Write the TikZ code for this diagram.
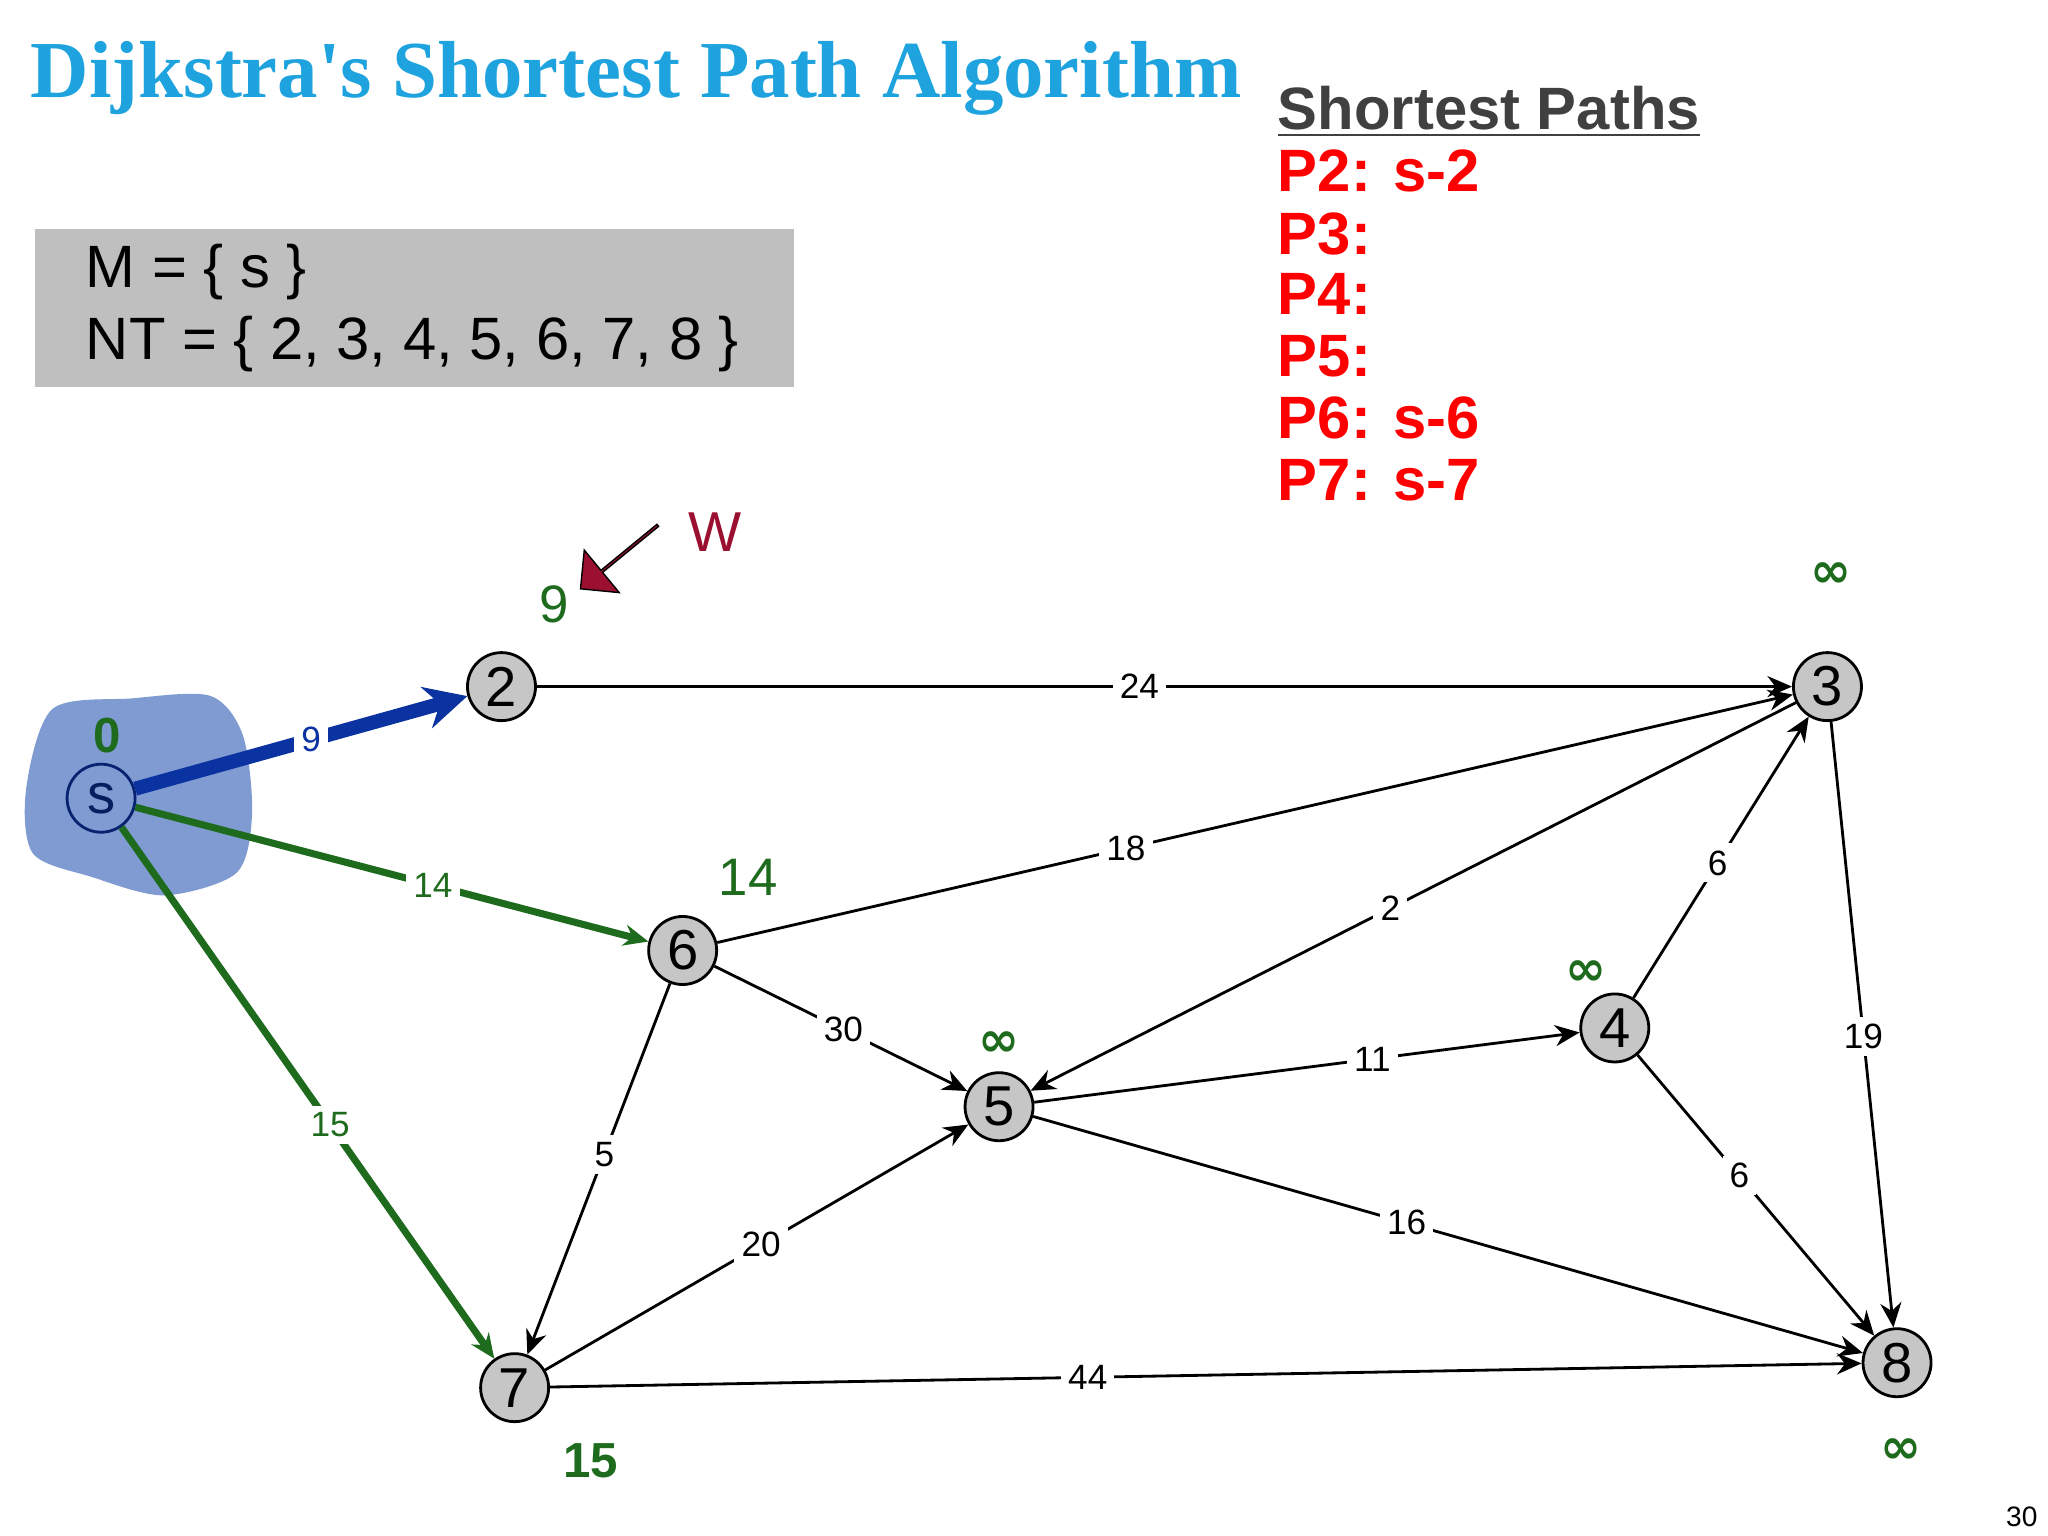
\documentclass[tikz,border=0pt]{standalone}
\usepackage{fontspec}
\setmainfont{Liberation Sans}
\newfontfamily\titlefont{Liberation Serif}
\newfontfamily\djv{DejaVu Sans}
\usetikzlibrary{arrows.meta,shapes.arrows}
\definecolor{ttl}{HTML}{1FA3DE}
\definecolor{grn}{HTML}{1E6B1E}
\definecolor{dred}{HTML}{9B1030}
\definecolor{blob}{HTML}{7F9BD2}
\definecolor{eblue}{HTML}{0A32A0}
\begin{document}
\begin{tikzpicture}[x=0.013128cm,y=-0.013128cm,
  vert/.style={circle,draw=black,thick,fill=gray!45,minimum size=0.68cm,inner sep=0pt,font=\fontsize{16}{16}\selectfont},
  edge/.style={-{Stealth[length=7pt,width=6pt]},thick},
  lab/.style={fill=white,inner sep=2pt,font=\fontsize{10}{10}\selectfont},
  dist/.style={text=grn,font=\bfseries\fontsize{14}{14}\selectfont},
  plab/.style={anchor=west,text=red,font=\bfseries\fontsize{17}{17}\selectfont}]
\useasboundingbox (0,0) rectangle (1560,1170);
\node[anchor=west,text=ttl,font=\titlefont\bfseries\fontsize{23}{23}\selectfont] (title) at (14,60) {Dijkstra's Shortest Path Algorithm};
\node[draw=none,fill=gray!50,minimum width=578*0.013128cm,minimum height=120*0.013128cm,anchor=north west] (box) at (26,174) {};
\node[anchor=west,font=\fontsize{17}{17}\selectfont] (m) at (56,207) {M = \{ s \}};
\node[anchor=west,font=\fontsize{17}{17}\selectfont] (nt) at (56,262) {NT = \{ 2, 3, 4, 5, 6, 7, 8 \}};
\node[anchor=west,text=black!75,font=\bfseries\fontsize{17}{17}\selectfont] (sp) at (964,85) {\underline{Shortest Paths}};
\node[plab] (p2) at (964,130) {P2: s-2};
\node[plab] (p3) at (964,178) {P3:};
\node[plab] (p4) at (964,224) {P4:};
\node[plab] (p5) at (964,271) {P5:};
\node[plab] (p6) at (964,318) {P6: s-6};
\node[plab] (p7) at (964,366) {P7: s-7};
\fill[blob] plot[smooth cycle] coordinates {(40,540)(100,532)(160,530)(185,560)(192,620)(180,665)(125,682)(70,668)(25,650)(20,600)};
\node[vert,fill=blob,draw=eblue!70!black,text=eblue!60!black] (s) at (77,608) {s};
\node[vert] (n2) at (382,523) {2};
\node[vert] (n3) at (1392,523) {3};
\node[vert] (n4) at (1230,783) {4};
\node[vert] (n5) at (761,843) {5};
\node[vert] (n6) at (520,724) {6};
\node[vert] (n7) at (392,1057) {7};
\node[vert] (n8) at (1445,1038) {8};
\draw[edge,eblue,line width=4pt,-{Stealth[length=12pt,width=12pt]}] (s) -- node[lab,pos=0.53]{9} (n2);
\draw[edge,grn,line width=2pt] (s) -- node[lab,pos=0.58]{14} (n6);
\draw[edge,grn,line width=2pt] (s) -- node[lab,pos=0.56]{15} (n7);
\draw[edge] (n2) -- node[lab,pos=0.48]{24} (n3);
\draw[edge] (n6) -- node[lab,pos=0.38]{18} (n3);
\draw[edge] (n3) -- node[lab,pos=0.53]{2} (n5);
\draw[edge] (n4) -- node[lab,pos=0.48]{6} (n3);
\draw[edge] (n3) -- node[lab,pos=0.52]{19} (n8);
\draw[edge] (n6) -- node[lab,pos=0.51]{30} (n5);
\draw[edge] (n6) -- node[lab,pos=0.46]{5} (n7);
\draw[edge] (n7) -- node[lab,pos=0.51]{20} (n5);
\draw[edge] (n5) -- node[lab,pos=0.62]{11} (n4);
\draw[edge] (n4) -- node[lab,pos=0.43]{6} (n8);
\draw[edge] (n5) -- node[lab,pos=0.45]{16} (n8);
\draw[edge] (n7) -- node[lab,pos=0.41]{44} (n8);
\node[dist] (d0) at (82,560) {0};
\node[dist,font=\fontsize{15}{15}\selectfont] (d2) at (422,460) {9};
\node[dist,font=\fontsize{15}{15}\selectfont] (d6) at (570,668) {14};
\node[dist] (d7) at (450,1113) {15};
\node[dist,font=\djv\bfseries\fontsize{14}{14}\selectfont] (d3) at (1395,438) {∞};
\node[dist,font=\djv\bfseries\fontsize{14}{14}\selectfont] (d4) at (1208,741) {∞};
\node[dist,font=\djv\bfseries\fontsize{14}{14}\selectfont] (d5) at (761,795) {∞};
\node[dist,font=\djv\bfseries\fontsize{14}{14}\selectfont] (d8) at (1448,1105) {∞};
\node[single arrow,fill=dred,draw=black,thin,minimum height=1.0cm,single arrow head extend=4pt,minimum width=0.55cm,inner sep=0pt,rotate=-140.6] (arr) at (472,424) {};
\node[text=dred,font=\fontsize{16}{16}\selectfont] (w) at (545,405) {W};
\node[font=\fontsize{8}{8}\selectfont] (pg) at (1540,1155) {30};
\end{tikzpicture}
\end{document}
